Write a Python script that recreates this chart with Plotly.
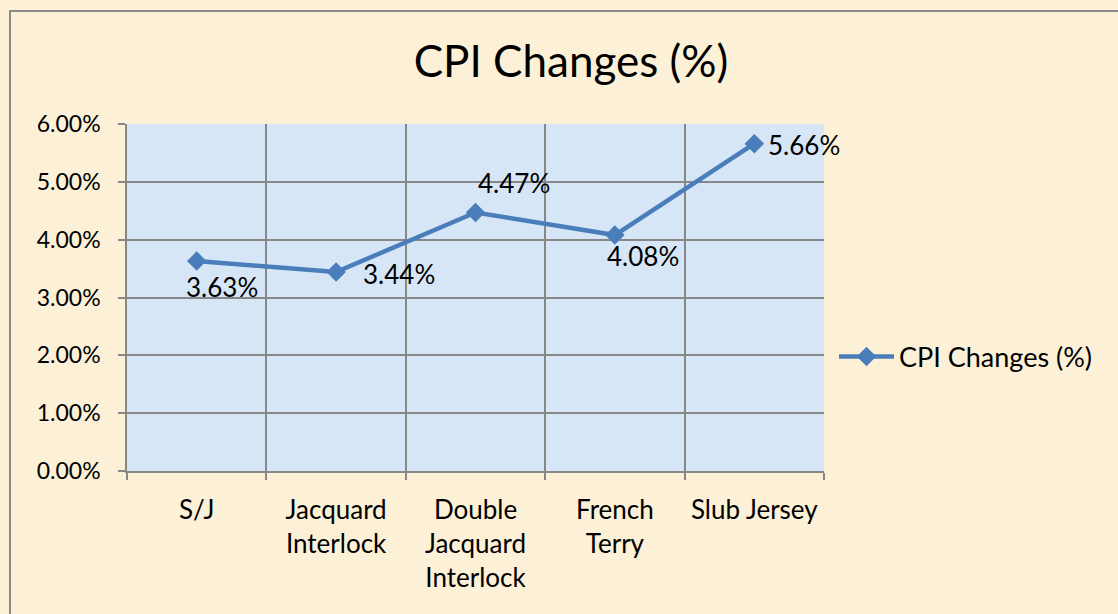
import plotly.graph_objects as go

categories = ["S/J", "Jacquard Interlock", "Double Jacquard Interlock", "French Terry", "Slub Jersey"]
tick_labels = ["S/J", "Jacquard<br>Interlock", "Double<br>Jacquard<br>Interlock", "French<br>Terry", "Slub Jersey"]
values = [0.0363, 0.0344, 0.0447, 0.0408, 0.0566]
series_name = "CPI Changes (%)"
y_ticks = [0.0, 0.01, 0.02, 0.03, 0.04, 0.05, 0.06]

W, H = 1118, 614
ML, MR, MT, MB = 127, 294, 124, 143
PW, PH = W - ML - MR, H - MT - MB

FONT = "Lato"
BLUE = "#4a7ebb"
GRID = "#878787"

fig = go.Figure()
fig.add_trace(go.Scatter(
    x=categories, y=values, mode="lines+markers", name=series_name,
    line=dict(color=BLUE, width=4.5),
    marker=dict(symbol="diamond", size=15, color=BLUE),
))

# data labels (offsets in pixels relative to each point)
label_offsets = [(25, -26, "center"), (25, -2, "left"), (38, 29, "center"), (28, -21, "center"), (12, -1, "left")]
for c, v, (dx, dy, xa) in zip(categories, values, label_offsets):
    fig.add_annotation(x=c, y=v, text=f"{v*100:.2f}%", showarrow=False,
                       xshift=dx, yshift=dy, xanchor=xa, yanchor="middle",
                       font=dict(family=FONT, size=26, color="#000000"))

def px_to_paper_x(px):
    return (px - ML) / PW

def px_to_paper_y(py):
    return (H - MB - py) / PH

# outer chart border (cut off at right/bottom as in the reference)
fig.add_shape(type="rect", xref="paper", yref="paper",
              x0=px_to_paper_x(10), y0=px_to_paper_y(700),
              x1=px_to_paper_x(1200), y1=px_to_paper_y(11),
              line=dict(color="#8a8a8a", width=2), layer="below")

fig.update_layout(
    width=W, height=H,
    margin=dict(l=ML, r=MR, t=MT, b=MB),
    paper_bgcolor="#fcf0d7",
    plot_bgcolor="#d6e6f6",
    title=dict(text="CPI Changes (%)", x=571 / W, xanchor="center",
               y=1 - 62 / H, yanchor="middle",
               font=dict(family=FONT, size=44, color="#000000")),
    showlegend=True,
    legend=dict(x=px_to_paper_x(834), y=px_to_paper_y(357), xanchor="left", yanchor="middle",
                bgcolor="rgba(0,0,0,0)", font=dict(family=FONT, size=27, color="#000000"),
                itemwidth=55),
    xaxis=dict(type="category", tickmode="array", tickvals=categories, ticktext=tick_labels,
               tickson="boundaries", showgrid=True, gridcolor=GRID, gridwidth=1.5,
               ticks="outside", ticklen=7, tickcolor=GRID, tickwidth=1.5,
               showline=True, linecolor=GRID, linewidth=1.5, tickangle=0,
               tickfont=dict(family=FONT, size=26, color="#000000"),
               range=[-0.5, 4.5], fixedrange=True, ticklabelstandoff=15),
    yaxis=dict(range=[0, 0.06], tickvals=y_ticks, tickformat=".2%",
               showgrid=True, gridcolor=GRID, gridwidth=1.5,
               ticks="outside", ticklen=7, tickcolor=GRID, tickwidth=1.5,
               showline=True, linecolor=GRID, linewidth=1.5, zeroline=False,
               tickfont=dict(family=FONT, size=23, color="#000000"),
               ticklabelstandoff=13, fixedrange=True),
)

fig.write_html("out.html", config={"displayModeBar": False},
               post_script="document.body.style.margin='0';document.body.style.overflow='hidden';document.body.style.background='#fcf0d7';")
